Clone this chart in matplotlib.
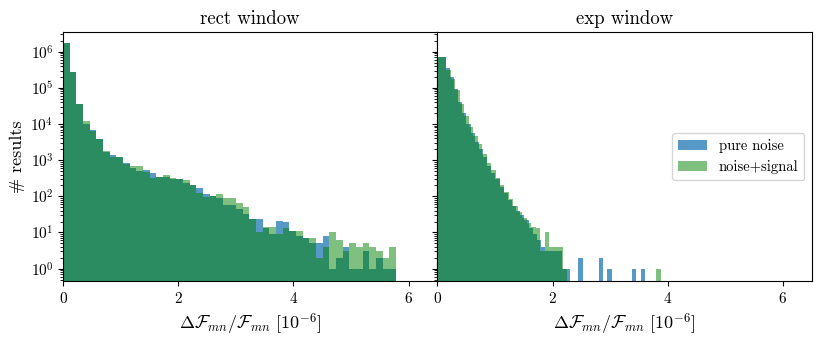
import matplotlib
matplotlib.use("Agg")
import matplotlib.pyplot as plt
import numpy as np

plt.rcParams.update({
    "font.family": "serif",
    "font.serif": ["cmr10"],
    "mathtext.fontset": "cm",
    "axes.unicode_minus": False,
    "axes.formatter.use_mathtext": True,
})

# ---- data -------------------------------------------------------------
panel_titles = ["rect window", "exp window"]
series_labels = ["pure noise", "noise+signal"]

# histogram ranges (50 bins each, in units of 1e-6)
rect_max = 5.78
exp_noise_max = 3.60
exp_signal_max = 3.88

rect_noise = [1.7e6, 2.7e5, 3.6e4, 1.0e4, 6.9e3, 3.9e3, 1.65e3, 1.35e3, 1.25e3, 850,
              590, 500, 520, 430, 350, 340, 310, 295, 235, 200,
              174, 118, 100, 87, 59, 59, 45, 33, 24, 24,
              13, 9, 21, 20, 11, 8, 7, 5, 5, 8,
              1, 2, 4, 1, 1, 3, 1, 2, 1, 1]
rect_signal = [1.7e6, 2.7e5, 3.6e4, 1.2e4, 6.5e3, 3.8e3, 1.75e3, 1.2e3, 1.2e3, 780,
               700, 700, 480, 320, 350, 390, 315, 300, 275, 205,
               123, 96, 104, 118, 92, 92, 66, 51, 23, 10,
               14, 14, 9, 13, 11, 11, 7, 7, 2, 4,
               10, 6, 3, 5, 4, 5, 4, 3, 2, 4]

exp_noise = [7.0e5, 7.2e5, 3.6e5, 2.0e5, 9.0e4, 4.0e4, 2.0e4, 1.0e4, 5.5e3, 3.2e3,
             2.0e3, 1.2e3, 700, 430, 300, 180, 120, 80, 55, 40,
             30, 22, 13, 9, 6, 4, 3, 3, 3, 3,
             1, 1, 0, 0, 2, 0, 0, 0, 0, 2,
             0, 1, 0, 0, 0, 0, 0, 1, 0, 1]
exp_signal = [7.0e5, 7.2e5, 3.2e5, 1.8e5, 8.7e4, 3.6e4, 1.7e4, 8.5e3, 4.8e3, 2.8e3,
              1.5e3, 850, 520, 330, 205, 135, 82, 53, 36, 25,
              18, 14, 13, 3, 10, 4, 4, 4, 1, 0,
              0, 0, 0, 0, 0, 0, 0, 0, 0, 0,
              0, 0, 0, 0, 0, 0, 0, 0, 0, 1]

x_ticks = [0, 2, 4, 6]

# ---- plot -------------------------------------------------------------
fig, axes = plt.subplots(1, 2, sharey=True, figsize=(8.3, 3.4), dpi=100)
fig.subplots_adjust(left=0.076, right=0.978, top=0.906, bottom=0.174, wspace=0)

panels = [
    ((rect_noise, rect_max), (rect_signal, rect_max)),
    ((exp_noise, exp_noise_max), (exp_signal, exp_signal_max)),
]
styles = [dict(color="C0", alpha=0.75), dict(color="green", alpha=0.5)]

for ax, title, pdata in zip(axes, panel_titles, panels):
    for (counts, vmax), st, lab in zip(pdata, styles, series_labels):
        counts = np.asarray(counts, dtype=float)
        edges = np.linspace(0, vmax, len(counts) + 1)
        ax.hist(edges[:-1], bins=edges, weights=counts, log=True,
                label=lab, **st)
    ax.set_title(title, fontsize=13.5)
    ax.set_xlim(0, 6.5)
    ax.set_xticks(x_ticks)
    ax.set_xlabel(r"$\Delta\mathcal{F}_{mn}/\mathcal{F}_{mn}\ [10^{-6}]$", fontsize=13)
    ax.tick_params(labelsize=11)

axes[0].set_ylim(0.46, 3.5e6)
axes[0].set_ylabel("# results", fontsize=13)
axes[1].legend(loc="center right", fontsize=10.5)

fig.savefig("out.png", dpi=100)
